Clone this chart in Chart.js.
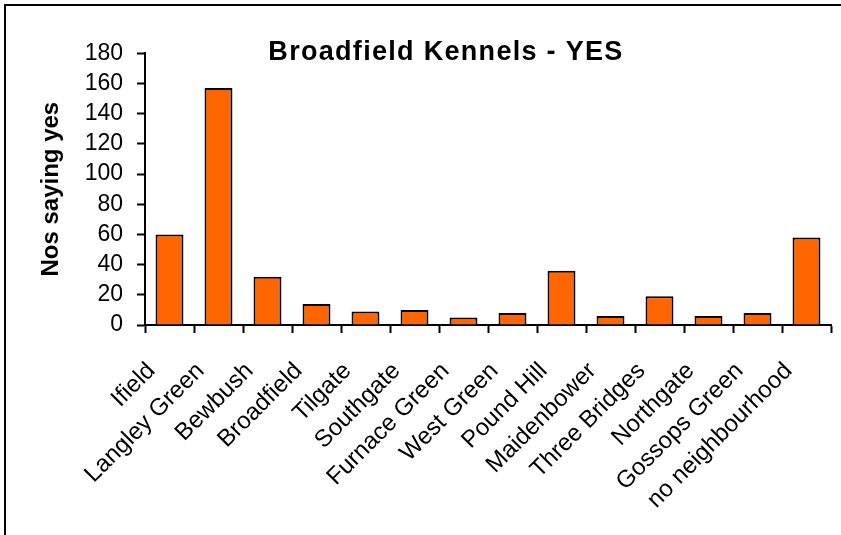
<!DOCTYPE html>
<html>
<head>
<meta charset="utf-8">
<title>Broadfield Kennels - YES</title>
<script src="https://cdn.jsdelivr.net/npm/chart.js@4.4.1/dist/chart.umd.min.js"></script>
<style>
    html, body { margin: 0; padding: 0; background: #fff; }
    canvas { display: block; }
</style>
</head>
<body>
<canvas id="kennelChart" width="841" height="535"></canvas>
<script>
// データ
const neighbourhoods = [
    'Ifield', 'Langley Green', 'Bewbush', 'Broadfield', 'Tilgate', 'Southgate',
    'Furnace Green', 'West Green', 'Pound Hill', 'Maidenbower', 'Three Bridges',
    'Northgate', 'Gossops Green', 'no neighbourhood'
];
const yesCounts = [60, 157, 32, 14, 9, 10, 5, 8, 36, 6, 19, 6, 8, 58];
const chartTitle = 'Broadfield Kennels - YES';
const yAxisTitle = 'Nos saying yes';
const yMin = 0;
const yMax = 180;
const yStep = 20;

const FONT = "'Liberation Sans', Arial, sans-serif";

// 外枠 (右と下は画面外)
const framePlugin = {
    id: 'frame',
    afterDraw(chart) {
        const ctx = chart.ctx;
        ctx.save();
        ctx.strokeStyle = '#000';
        ctx.lineWidth = 2;
        ctx.strokeRect(5, 5, chart.width + 20, chart.height + 20);
        ctx.restore();
    }
};

// タイトルの字間を広げる
const titleSpacingPlugin = {
    id: 'titleSpacing',
    afterInit(chart) {
        const block = chart.titleBlock;
        if (!block) return;
        const origDraw = block.draw.bind(block);
        block.draw = function () {
            chart.ctx.save();
            chart.ctx.letterSpacing = '1.3px';
            origDraw();
            chart.ctx.restore();
        };
    }
};

function initChart() {
    const canvas = document.getElementById('kennelChart');

    new Chart(canvas, {
        type: 'bar',
        data: {
            labels: neighbourhoods,
            datasets: [{
                label: yAxisTitle,
                data: yesCounts,
                backgroundColor: '#FF6600',
                borderColor: '#000000',
                borderWidth: 2,
                borderSkipped: 'bottom',
                barPercentage: 0.57,
                categoryPercentage: 1.0
            }]
        },
        options: {
            responsive: false,
            animation: false,
            layout: {
                padding: { left: 61, right: 10, top: 0, bottom: 0 }
            },
            plugins: {
                legend: { display: false },
                tooltip: { enabled: false },
                title: {
                    display: true,
                    text: chartTitle,
                    color: '#000',
                    font: { family: FONT, size: 27, weight: 'bold' },
                    padding: { top: 36, bottom: -15 }
                }
            },
            scales: {
                x: {
                    grid: {
                        display: true,
                        drawOnChartArea: false,
                        drawTicks: true,
                        tickLength: 8,
                        tickWidth: 2,
                        tickColor: '#000',
                        offset: true
                    },
                    border: { display: true, color: '#000', width: 2 },
                    ticks: {
                        autoSkip: false,
                        minRotation: 45,
                        maxRotation: 45,
                        labelOffset: -18,
                        padding: 24,
                        color: '#000',
                        font: { family: FONT, size: 24 }
                    },
                    afterFit(scale) {
                        scale.height = 210;
                        scale.paddingLeft = 0;
                        scale.paddingRight = 0;
                    }
                },
                y: {
                    min: yMin,
                    max: yMax,
                    grid: {
                        display: true,
                        drawOnChartArea: false,
                        drawTicks: true,
                        tickLength: 8,
                        tickWidth: 2,
                        tickColor: '#000'
                    },
                    border: { display: true, color: '#000', width: 2 },
                    ticks: {
                        stepSize: yStep,
                        autoSkip: false,
                        padding: 14,
                        color: '#000',
                        font: { family: FONT, size: 23 }
                    },
                    title: {
                        display: true,
                        text: yAxisTitle,
                        color: '#000',
                        font: { family: FONT, size: 24, weight: 'bold' },
                        padding: { top: -24, bottom: 0 }
                    },
                    afterFit(scale) {
                        scale.width = 84;
                    }
                }
            }
        },
        plugins: [framePlugin, titleSpacingPlugin]
    });
}

document.addEventListener('DOMContentLoaded', initChart);
</script>
</body>
</html>
